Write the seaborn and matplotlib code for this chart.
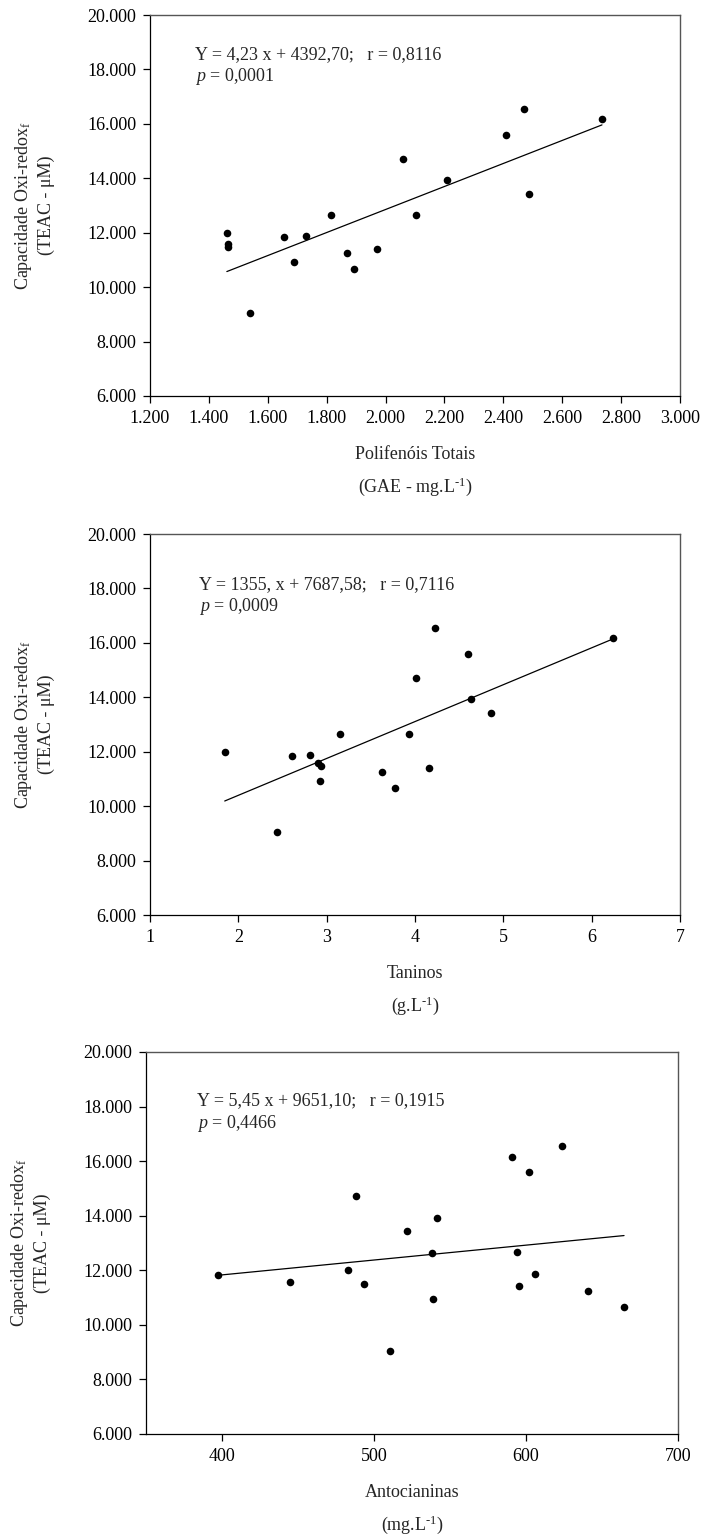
import matplotlib
matplotlib.use("Agg")
import matplotlib.pyplot as plt
import matplotlib.ticker as mticker
import seaborn as sns
import pandas as pd

# ---- data ----
teac = [12005, 11577, 11491, 9034, 11834, 10941, 11870, 12641, 11247,
        10660, 11406, 14719, 12653, 13924, 15587, 16540, 13435, 16161]
polifenois = [1461, 1464, 1464, 1540, 1656, 1689, 1729, 1815, 1870,
              1894, 1972, 2059, 2103, 2208, 2408, 2471, 2486, 2735]
taninos = [1.846, 2.900, 2.936, 2.434, 2.602, 2.926, 2.809, 3.154, 3.625,
           3.772, 4.163, 4.006, 3.930, 4.629, 4.604, 4.229, 4.857, 6.246]
antocianinas = [483.0, 444.8, 493.7, 510.3, 397.3, 538.8, 606.0, 537.9, 640.5,
                664.5, 595.1, 488.4, 594.2, 541.4, 601.9, 623.6, 521.9, 590.6]

slopes = [4.23, 1355.0, 5.45]
intercepts = [4392.70, 7687.58, 9651.10]
equations = ["Y = 4,23 x + 4392,70;   r = 0,8116",
             "Y = 1355, x + 7687,58;   r = 0,7116",
             "Y = 5,45 x + 9651,10;   r = 0,1915"]
pvalues = ["0,0001", "0,0009", "0,4466"]
xlabels = ["Polifenóis Totais\n(GAE - mg.L$^{\\text{-}1}$)",
           "Taninos\n(g.L$^{\\text{-}1}$)",
           "Antocianinas\n(mg.L$^{\\text{-}1}$)"]
ylabel = "Capacidade Oxi-redox$_{\\mathrm{f}}$\n(TEAC - μM)"
xlims = [(1200, 3000), (1, 7), (350, 700)]
xticks = [list(range(1200, 3001, 200)), list(range(1, 8)), [400, 500, 600, 700]]
yticks = list(range(6000, 20001, 2000))

sns.set_style("ticks")
plt.rcParams["font.family"] = ["Liberation Serif", "DejaVu Serif"]
plt.rcParams["mathtext.fontset"] = "custom"
plt.rcParams["mathtext.rm"] = "Liberation Serif"
plt.rcParams["mathtext.it"] = "Liberation Serif:italic"

fig = plt.figure(figsize=(7.04, 15.35), dpi=100)
W, H = 704, 1535
boxes = [(150, 680, 15, 396), (150, 680, 534, 915), (146, 678, 1052, 1434)]
txtpos = [(0.085, 0.896, 0.838), (0.093, 0.866, 0.810), (0.095, 0.872, 0.813)]
FS = 13

def dotfmt(v, pos):
    return f"{v:,.0f}".replace(",", ".")

for i, xs in enumerate([polifenois, taninos, antocianinas]):
    l, r, t, b = boxes[i]
    ax = fig.add_axes([l / W, 1 - b / H, (r - l) / W, (b - t) / H])
    df = pd.DataFrame({"x": xs, "y": teac})
    sns.scatterplot(data=df, x="x", y="y", ax=ax, color="black", s=30,
                    edgecolor="black", linewidth=0, zorder=3)
    x0, x1 = min(xs), max(xs)
    line = pd.DataFrame({"x": [x0, x1],
                         "y": [slopes[i] * x0 + intercepts[i], slopes[i] * x1 + intercepts[i]]})
    sns.lineplot(data=line, x="x", y="y", ax=ax, color="black", linewidth=0.9)
    ax.set_xlim(*xlims[i])
    ax.set_ylim(6000, 20000)
    ax.set_xticks(xticks[i])
    ax.set_yticks(yticks)
    ax.yaxis.set_major_formatter(mticker.FuncFormatter(dotfmt))
    if i == 0:
        ax.xaxis.set_major_formatter(mticker.FuncFormatter(dotfmt))
    ax.tick_params(axis="both", direction="out", length=5, width=0.9,
                   labelsize=FS, color="black", labelcolor="black", pad=5)
    for s in ["left", "bottom"]:
        ax.spines[s].set_color("black")
        ax.spines[s].set_linewidth(0.9)
    for s in ["top", "right"]:
        ax.spines[s].set_visible(True)
        ax.spines[s].set_color("#555555")
        ax.spines[s].set_linewidth(1.0)
    ax.set_xlabel(xlabels[i], fontsize=FS, linespacing=1.75, labelpad=14)
    ax.set_ylabel(ylabel, fontsize=FS, linespacing=1.3, labelpad=23)
    tx, ty1, ty2 = txtpos[i]
    ax.text(tx, ty1, equations[i], transform=ax.transAxes, fontsize=FS,
            va="center", ha="left")
    ax.text(tx, ty2, "$\\it{p}$ = " + pvalues[i], transform=ax.transAxes,
            fontsize=FS, va="center", ha="left")

fig.savefig("out.png", dpi=100, facecolor="white")
